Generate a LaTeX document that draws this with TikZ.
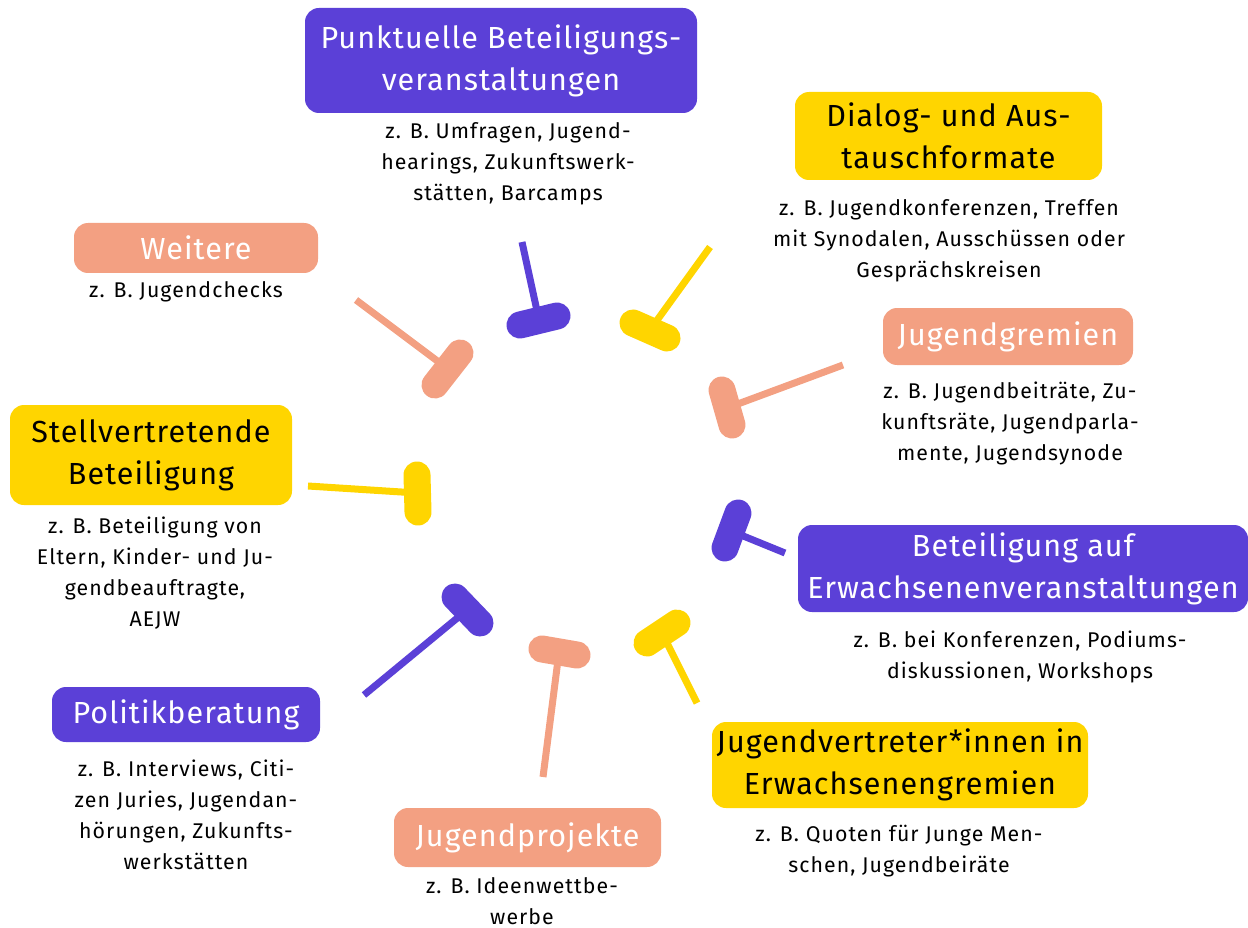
\documentclass[tikz,border=0pt]{standalone}
\usepackage{fontspec}
\setmainfont{Fira Sans}
\newfontfamily\ttlfam[LetterSpace=3.5]{Fira Sans}
\newfontfamily\dscfam[LetterSpace=5]{Fira Sans}
\definecolor{lila}{HTML}{5B40D7}
\definecolor{gelb}{HTML}{FFD500}
\definecolor{lachs}{HTML}{F3A082}
\newcommand{\ttlfont}{\ttlfam\fontsize{30.5}{42}\selectfont}
\newcommand{\dscfont}{\dscfam\fontsize{21.3}{31}\selectfont}
\begin{document}
\begin{tikzpicture}[x=1pt,y=-1pt,
  box/.style={rounded corners=14pt, inner sep=0pt, align=center, font=\ttlfont},
  dsc/.style={inner sep=0pt, align=center, font=\dscfont, text=black},
  stickline/.style={line width=7pt},
  stickbar/.style={line width=27pt, line cap=round}]
\useasboundingbox (0,0) rectangle (1248,928);
% boxes
\node[box, fill=lila, text=white, minimum width=392pt, minimum height=105pt] (punkt) at (501,60.5) {Punktuelle Beteiligungs-\\veranstaltungen};
\node[dsc] (punktd) at (508,164) {z. B. Umfragen, Jugend-\\hearings, Zukunftswerk-\\stätten, Barcamps};
\node[box, fill=gelb, text=black, minimum width=307pt, minimum height=88pt] (dialog) at (948.5,136) {Dialog- und Aus-\\tauschformate};
\node[dsc] (dialogd) at (949,241) {z. B. Jugendkonferenzen, Treffen\\mit Synodalen, Ausschüssen oder\\Gesprächskreisen};
\node[box, fill=lachs, text=white, minimum width=244pt, minimum height=50pt] (weitere) at (196,248) {Weitere};
\node[dsc] (weitered) at (186,292) {z. B. Jugendchecks};
\node[box, fill=lachs, text=white, minimum width=250pt, minimum height=57pt] (gremien) at (1008,336.5) {Jugendgremien};
\node[dsc] (gremiend) at (1010,423) {z. B. Jugendbeiträte, Zu-\\kunftsräte, Jugendparla-\\mente, Jugendsynode};
\node[box, fill=gelb, text=black, minimum width=282pt, minimum height=100pt] (stell) at (151,455) {Stellvertretende\\Beteiligung};
\node[dsc] (stelld) at (155,573) {z. B. Beteiligung von\\Eltern, Kinder- und Ju-\\gendbeauftragte,\\AEJW};
\node[box, fill=lila, text=white, minimum width=450pt, minimum height=87pt] (erw) at (1023,568.5) {Beteiligung auf\\Erwachsenenveranstaltungen};
\node[dsc] (erwd) at (1020,657) {z. B. bei Konferenzen, Podiums-\\diskussionen, Workshops};
\node[box, fill=lila, text=white, minimum width=268pt, minimum height=55pt] (politik) at (186,714.5) {Politikberatung};
\node[dsc] (politikd) at (186,815) {z. B. Interviews, Citi-\\zen Juries, Jugendan-\\hörungen, Zukunfts-\\werkstätten};
\node[box, fill=gelb, text=black, minimum width=376pt, minimum height=86pt] (vertr) at (900,765) {Jugendvertreter*innen in\\Erwachsenengremien};
\node[dsc] (vertrd) at (899,851) {z. B. Quoten für Junge Men-\\schen, Jugendbeiräte};
\node[box, fill=lachs, text=white, minimum width=267pt, minimum height=59pt] (proj) at (527.5,837.5) {Jugendprojekte};
\node[dsc] (projd) at (522,901) {z. B. Ideenwettbe-\\werbe};
% sticks: outer end, bar centre, bar ends
\newcommand{\stick}[5]{%
  \draw[stickline, #1] #2 -- #3;
  \draw[stickbar, #1] #4 -- #5;}
\coordinate (s1o) at (522,242); \coordinate (s1c) at (539,320);
\stick{lila}{(s1o)}{(s1c)}{(520,325)}{(557,316)}
\coordinate (s2o) at (710,247); \coordinate (s2c) at (650,330);
\stick{gelb}{(s2o)}{(s2c)}{(633,323)}{(667,338)}
\coordinate (s3o) at (356,300); \coordinate (s3c) at (448,369);
\stick{lachs}{(s3o)}{(s3c)}{(435,385)}{(460,353)}
\coordinate (s4o) at (843,365); \coordinate (s4c) at (727,408);
\stick{lachs}{(s4o)}{(s4c)}{(722,390)}{(732,425)}
\coordinate (s5o) at (785,553); \coordinate (s5c) at (731,531);
\stick{lila}{(s5o)}{(s5c)}{(738,513)}{(725,548)}
\coordinate (s6o) at (697,703); \coordinate (s6c) at (662,633);
\stick{gelb}{(s6o)}{(s6c)}{(647,643)}{(677,623)}
\coordinate (s7o) at (543,777); \coordinate (s7c) at (559,652);
\stick{lachs}{(s7o)}{(s7c)}{(542,649)}{(577,655)}
\coordinate (s8o) at (364,695); \coordinate (s8c) at (467,610);
\stick{lila}{(s8o)}{(s8c)}{(455,597)}{(480,623)}
\coordinate (s9o) at (308,486); \coordinate (s9c) at (417,493);
\stick{gelb}{(s9o)}{(s9c)}{(417,475)}{(418,512)}
\end{tikzpicture}
\end{document}
